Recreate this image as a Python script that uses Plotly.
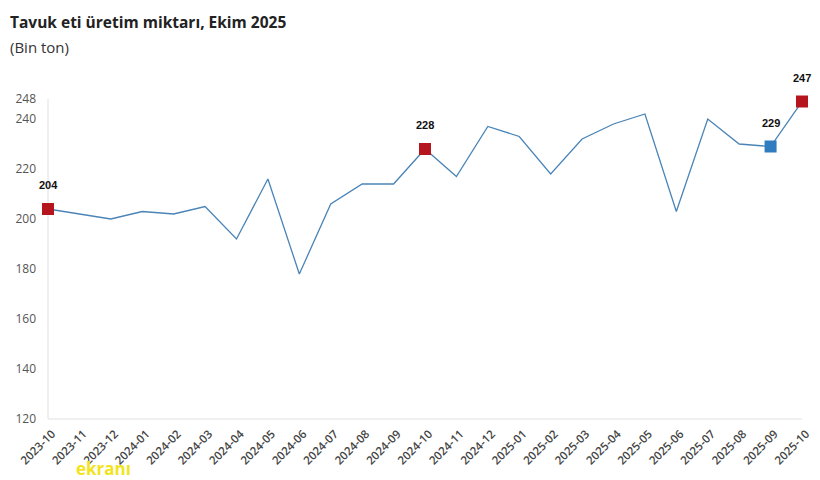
import plotly.graph_objects as go

months = ["2023-10", "2023-11", "2023-12", "2024-01", "2024-02", "2024-03", "2024-04",
          "2024-05", "2024-06", "2024-07", "2024-08", "2024-09", "2024-10", "2024-11",
          "2024-12", "2025-01", "2025-02", "2025-03", "2025-04", "2025-05", "2025-06",
          "2025-07", "2025-08", "2025-09", "2025-10"]
production = [204, 202, 200, 203, 202, 205, 192, 216, 178, 206, 214, 214, 228, 217,
              237, 233, 218, 232, 238, 242, 203, 240, 230, 229, 247]

red_months = ["2023-10", "2024-10", "2025-10"]
red_values = [204, 228, 247]
prev_month = ["2025-09"]
prev_value = [229]

y_ticks = [120, 140, 160, 180, 200, 220, 240, 248]

RED = "#B5161D"
BLUE = "#2F7DC0"
LINE = "#4A84B6"

PW, PH = 754, 320  # plot area size in px

fig = go.Figure()
fig.add_trace(go.Scatter(x=months, y=production, mode="lines",
                         line=dict(color=LINE, width=1.3), hoverinfo="x+y",
                         showlegend=False))
fig.add_trace(go.Scatter(x=red_months, y=red_values, mode="markers",
                         marker=dict(symbol="square", size=12, color=RED),
                         cliponaxis=False, showlegend=False))
fig.add_trace(go.Scatter(x=prev_month, y=prev_value, mode="markers",
                         marker=dict(symbol="square", size=12, color=BLUE),
                         cliponaxis=False, showlegend=False))

for m, v in zip(red_months + prev_month, red_values + prev_value):
    fig.add_annotation(x=m, y=v, text=f"<b>{v}</b>", showarrow=False, yshift=24,
                       font=dict(family="Liberation Sans, Arial", size=11, color="#111"))

fig.add_annotation(text="<b>Tavuk eti üretim miktarı, Ekim 2025</b>", xref="paper", yref="paper",
                   x=-40 / PW, y=1 + 77 / PH, xanchor="left", yanchor="middle",
                   showarrow=False, font=dict(size=15.5, color="#222"))
fig.add_annotation(text="(Bin ton)", xref="paper", yref="paper",
                   x=-40 / PW, y=1 + 52 / PH, xanchor="left", yanchor="middle",
                   showarrow=False, font=dict(size=15, color="#333"))
fig.add_annotation(text="<b>ekranı</b>", xref="paper", yref="paper",
                   x=26 / PW, y=-49 / PH, xanchor="left", yanchor="middle",
                   showarrow=False, font=dict(size=17, color="#F2E41C"))

fig.update_layout(
    width=812, height=472,
    margin=dict(l=40, r=18, t=91, b=61, autoexpand=False),
    paper_bgcolor="white", plot_bgcolor="white",
    font=dict(family="Open Sans, Noto Sans, sans-serif", color="#444"),
    xaxis=dict(type="category", tickangle=-45, showgrid=False, showline=False,
               zeroline=False, ticks="", tickfont=dict(size=11.5, color="#444", weight=600),
               ticklabelstandoff=5, ticklabelshift=4,
               range=[0, len(months) - 1], automargin=False),
    yaxis=dict(range=[120, 248], tickvals=y_ticks, showgrid=False, zeroline=False,
               showline=False, ticks="", tickfont=dict(size=12, color="#555"),
               ticklabelstandoff=11, automargin=False),
    shapes=[
        dict(type="line", xref="paper", yref="paper", x0=0, x1=1, y0=0, y1=0,
             layer="below", line=dict(color="#E0E0E0", width=1)),
        dict(type="line", xref="paper", yref="paper", x0=0, x1=0, y0=0, y1=1,
             layer="below", line=dict(color="#E0E0E0", width=1)),
    ],
)

fig.write_html("out.html")
